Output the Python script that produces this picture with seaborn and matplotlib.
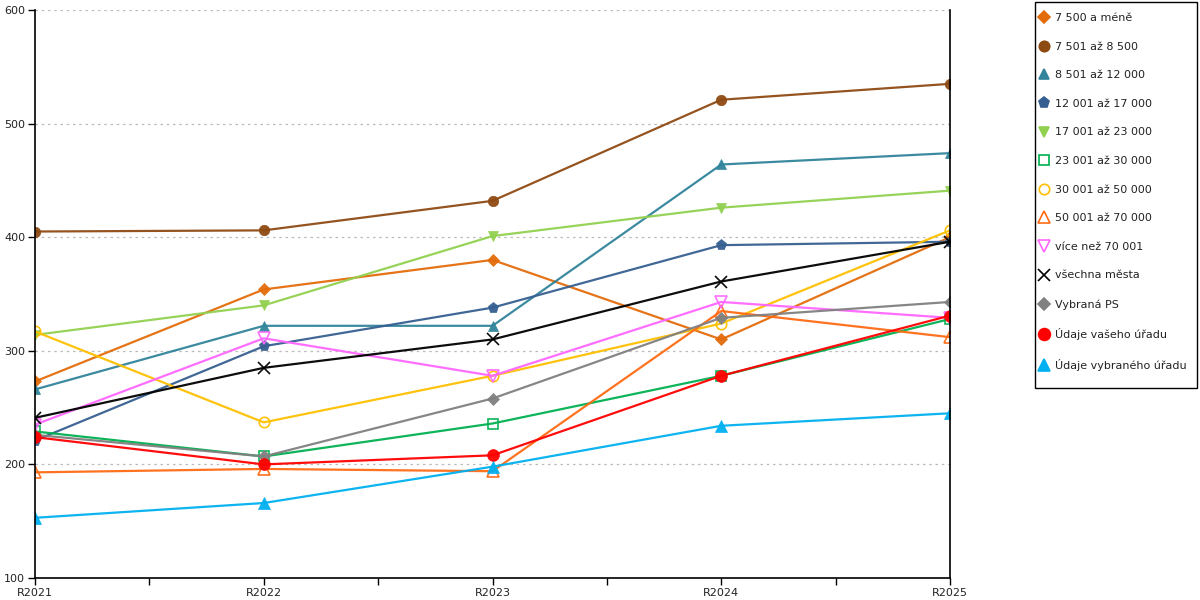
import numpy as np
import pandas as pd
import seaborn as sns
import matplotlib.pyplot as plt
from matplotlib.lines import Line2D
from matplotlib.patches import Rectangle

years = ["R2021", "R2022", "R2023", "R2024", "R2025"]

labels = ["7 500 a méně", "7 501 až 8 500", "8 501 až 12 000", "12 001 až 17 000",
          "17 001 až 23 000", "23 001 až 30 000", "30 001 až 50 000", "50 001 až 70 000",
          "více než 70 001", "všechna města", "Vybraná PS", "Údaje vašeho úřadu",
          "Údaje vybraného úřadu"]

v_7500 = [273, 354, 380, 310, 400]
v_8500 = [405, 406, 432, 521, 535]
v_12000 = [266, 322, 322, 464, 474]
v_17000 = [221, 304, 338, 393, 396]
v_23000 = [314, 340, 401, 426, 441]
v_30000 = [229, 207, 236, 278, 328]
v_50000 = [317, 237, 278, 324, 406]
v_70000 = [193, 196, 194, 335, 312]
v_nad70000 = [235, 311, 278, 343, 329]
v_vsechna = [241, 285, 310, 361, 396]
v_ps = [226, 207, 258, 329, 343]
v_vas = [224, 200, 208, 278, 331]
v_vybrany = [153, 166, 198, 234, 245]

values = [v_7500, v_8500, v_12000, v_17000, v_23000, v_30000, v_50000, v_70000,
          v_nad70000, v_vsechna, v_ps, v_vas, v_vybrany]

# colour, marker, filled, marker size
styles = [("#E36C0A", "D", True, 6),
          ("#8E4A13", "o", True, 7.5),
          ("#31849B", "^", True, 7.5),
          ("#365F91", "p", True, 8),
          ("#92D050", "v", True, 7.5),
          ("#00B050", "s", False, 7),
          ("#FFC000", "o", False, 7.5),
          ("#FF6A13", "^", False, 8),
          ("#FF66FF", "v", False, 8),
          ("#000000", "x", True, 8),
          ("#808080", "D", True, 6),
          ("#FF0000", "o", True, 8.5),
          ("#00B0F0", "^", True, 8.5)]

sns.set_theme(style="white")
plt.rcParams["font.family"] = ["DejaVu Sans"]

fig = plt.figure(figsize=(12, 6), dpi=100)
ax = fig.add_axes([35 / 1200, 22 / 600, 915 / 1200, 568 / 600])

xpos = np.arange(len(years))
handles = []
for lab, vals, (col, mk, filled, ms) in zip(labels, values, styles):
    df = pd.DataFrame({"x": xpos, "y": vals})
    sns.lineplot(data=df, x="x", y="y", ax=ax, color=col, marker=mk, markersize=ms,
                 markerfacecolor=col if filled else "none", markeredgecolor=col,
                 markeredgewidth=1.2 if not filled or mk == "x" else 0.5,
                 linewidth=1.6, alpha=0.95)
    handles.append(Line2D([], [], linestyle="None", marker=mk, markersize=ms,
                          color=col, markerfacecolor=col if filled else "none",
                          markeredgecolor=col, markeredgewidth=1.2, label=lab))

ax.set_xlim(0, len(years) - 1)
ax.set_ylim(100, 600)
ax.set_xlabel("")
ax.set_ylabel("")

ax.set_yticks(range(100, 601, 100))
ticks = np.arange(0, len(years) - 0.5, 0.5)
ax.set_xticks(ticks)
ax.set_xticklabels([years[int(t)] if t == int(t) else "" for t in ticks])
ax.tick_params(axis="both", direction="out", length=5, width=1, color="black",
               labelsize=8, labelcolor="#222222", pad=2, left=True, bottom=True)
ax.yaxis.grid(True, linestyle=(0, (2, 3)), color="#BBBBBB", linewidth=0.9)
ax.xaxis.grid(False)

for side in ["left", "bottom", "right"]:
    ax.spines[side].set_visible(True)
    ax.spines[side].set_color("black")
    ax.spines[side].set_linewidth(1.2)
ax.spines["top"].set_visible(False)

# legend without its own frame, box drawn separately
leg = fig.legend(handles=handles, loc="upper left", bbox_to_anchor=(1039.5 / 1200, 1 - 13 / 600),
                 frameon=False, fontsize=8, labelspacing=1.675,
                 handlelength=0.8, handletextpad=0.58, borderpad=0, borderaxespad=0)
for t in leg.get_texts():
    t.set_color("#222222")
fig.patches.append(Rectangle((1035 / 1200, 1 - 388 / 600), 162 / 1200, 386 / 600,
                             transform=fig.transFigure, fill=False, edgecolor="black",
                             linewidth=1.0))

fig.savefig("out.png", dpi=100)
